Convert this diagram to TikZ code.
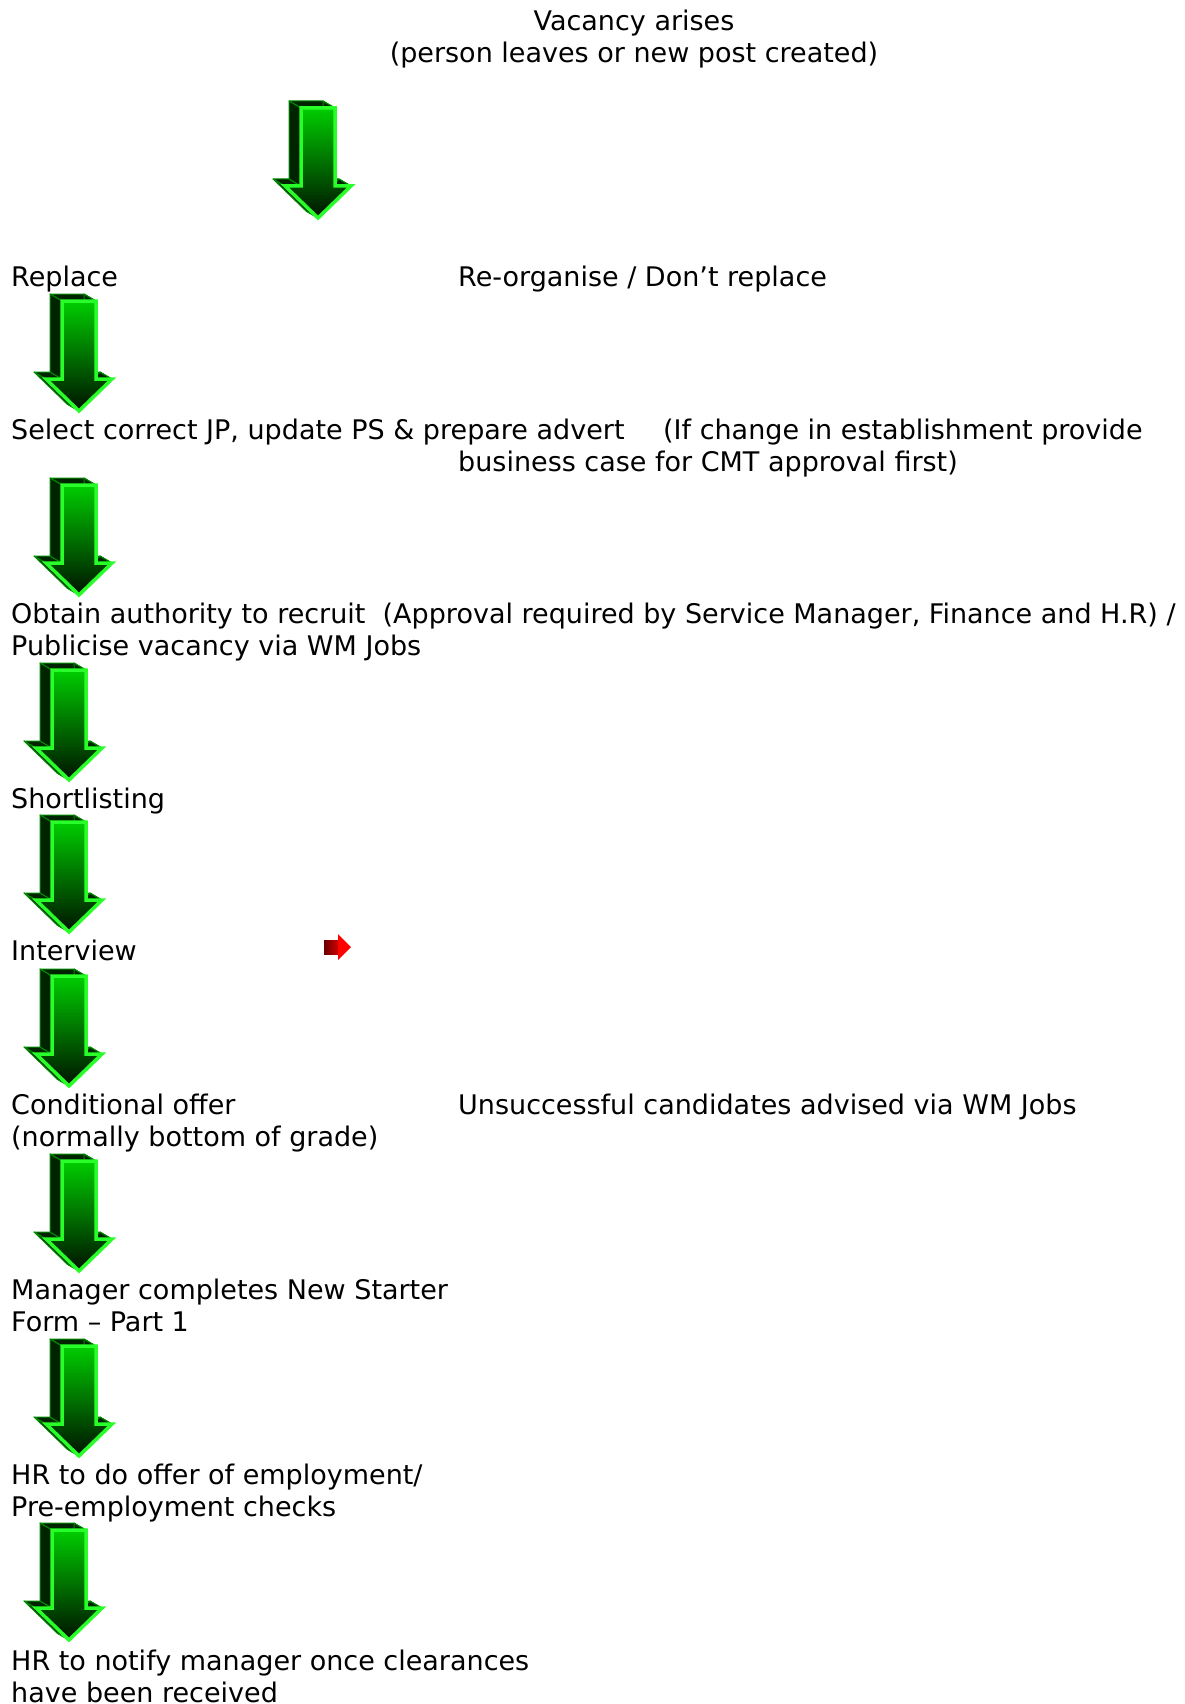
\documentclass[tikz,border=0pt]{standalone}
\usepackage{fontspec}
\setmainfont{DejaVu Sans}
\usepackage{tikz}

\definecolor{shaftgreen}{RGB}{0,205,0}
\definecolor{tipgreen}{RGB}{0,18,0}
\definecolor{rimgreen}{RGB}{40,255,40}
\definecolor{sidegreen}{RGB}{0,36,0}
\definecolor{edgegreen}{RGB}{0,140,0}
\definecolor{darkred}{RGB}{105,0,0}
\definecolor{brightred}{RGB}{255,0,0}

\tikzset{
	flowtext/.style={anchor=base west, inner sep=0pt, font=\fontsize{27}{32}\selectfont},
	arrowside/.style={fill=sidegreen, draw=edgegreen, line width=1pt, line join=round},
	arrowfront/.style={top color=shaftgreen, bottom color=tipgreen, draw=rimgreen, line width=3.5pt, line join=miter},
	downarrow/.pic={
		% back of the block, seen up and to the left
		\foreach \ax/\ay/\bx/\by in {-17/0/17/0, 17/0/17/78, 17/78/33/78, 33/78/0/110, 0/110/-33/78, -33/78/-17/78, -17/78/-17/0}
			\filldraw [arrowside] (\ax,\ay) -- (\bx,\by) -- ++(-12,-7) -- (\ax-12,\ay-7) -- cycle;
		\shadedraw [arrowfront] (-17,0) -- (17,0) -- (17,78) -- (33,78) -- (0,110) -- (-33,78) -- (-17,78) -- cycle;
	}
}

\begin{document}
\begin{tikzpicture}[x=1pt, y=-1pt]
	%\draw [help lines, step=100] (0,0) grid (1184,1704);
	\useasboundingbox (0,0) rectangle (1184,1704);

	\node [flowtext, anchor=base] (vacancy) at (634,31) {Vacancy arises};
	\node [flowtext, anchor=base] (vacancy2) at (634,63) {(person leaves or new post created)};

	\node [flowtext] (replace) at (11,286) {Replace};
	\node [flowtext] (reorg) at (458,286) {Re-organise / Don’t replace};

	\node [flowtext] (select) at (11,439) {Select correct JP, update PS \& prepare advert};
	\node [flowtext] (ifchange) at (663,439) {(If change in establishment provide};
	\node [flowtext] (business) at (458,471) {business case for CMT approval first)};

	\node [flowtext] (obtain) at (11,623) {Obtain authority to recruit\ \ (Approval required by Service Manager, Finance and H.R) /};
	\node [flowtext] (publicise) at (11,655) {Publicise vacancy via WM Jobs};

	\node [flowtext] (shortlist) at (11,808) {Shortlisting};

	\node [flowtext] (interview) at (11,960) {Interview};

	\node [flowtext] (offer) at (11,1114) {Conditional offer};
	\node [flowtext] (offer2) at (11,1146) {(normally bottom of grade)};
	\node [flowtext] (unsuccessful) at (458,1114) {Unsuccessful candidates advised via WM Jobs};

	\node [flowtext] (starter) at (11,1299) {Manager completes New Starter};
	\node [flowtext] (starter2) at (11,1331) {Form – Part 1};

	\node [flowtext] (hroffer) at (11,1484) {HR to do offer of employment/};
	\node [flowtext] (hroffer2) at (11,1516) {Pre-employment checks};

	\node [flowtext] (notify) at (11,1670) {HR to notify manager once clearances};
	\node [flowtext] (notify2) at (11,1702) {have been received};

	% block arrows, top centre of the front face
	\foreach \cx/\cy in {318/108, 79/301, 79/485, 69/670, 69/822, 69/976, 79/1161, 79/1346, 69/1530}
		\pic at (\cx,\cy) {downarrow};

	% small red arrow by the interview
	\shade [left color=darkred, right color=brightred!85!black] (324,940) rectangle (339,954);
	\fill [brightred] (338,934) -- (351,947) -- (338,960) -- cycle;
\end{tikzpicture}
\end{document}
